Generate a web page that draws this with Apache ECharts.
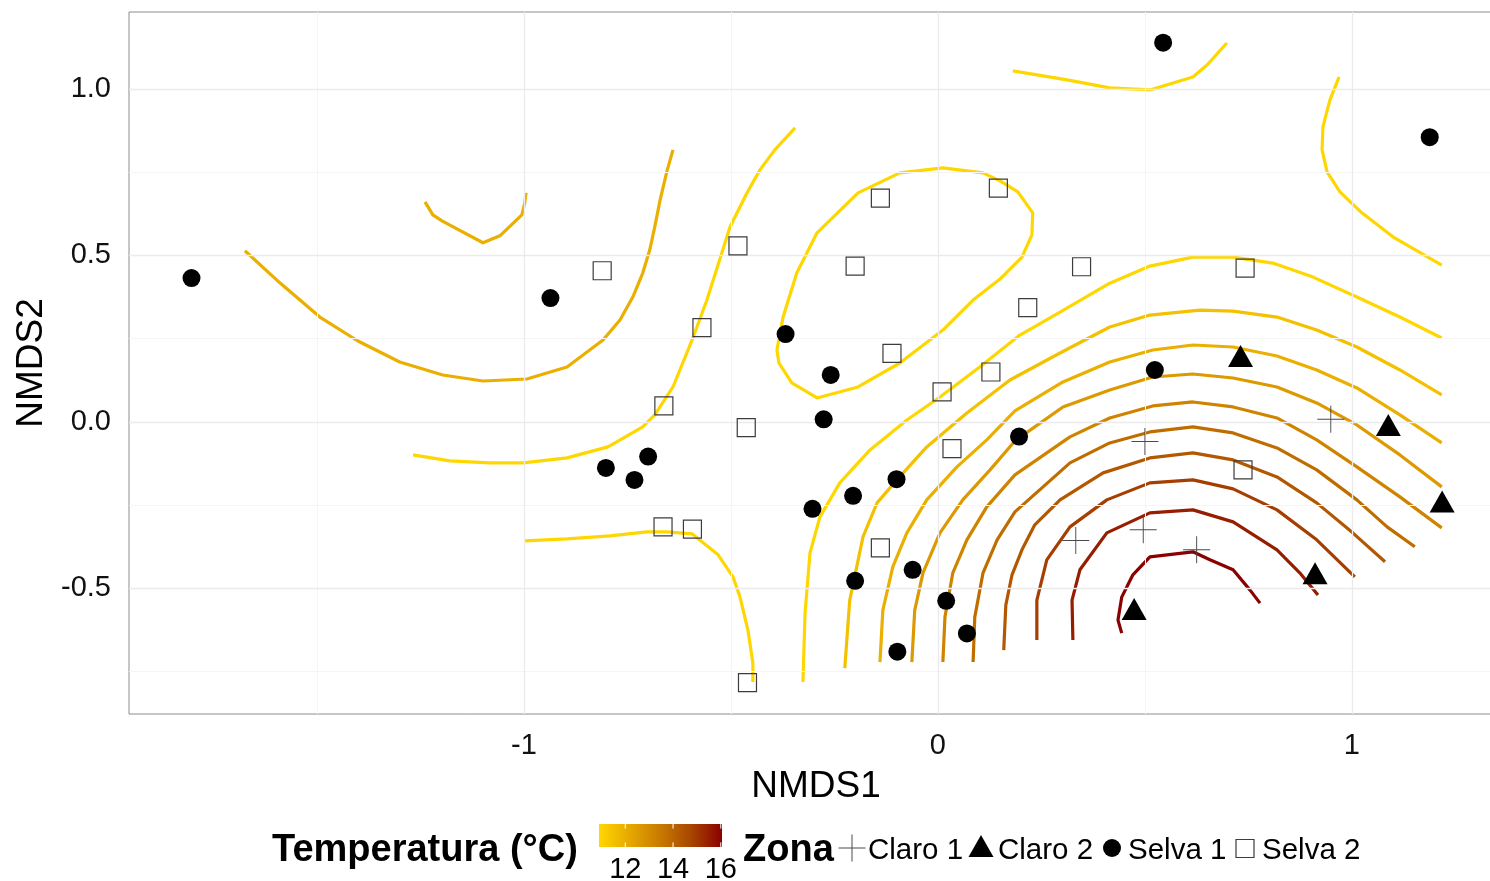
<!DOCTYPE html>
<html>
<head>
<meta charset="utf-8">
<script src="https://cdn.jsdelivr.net/npm/echarts@6/dist/echarts.min.js"></script>
<style>
  html, body { margin: 0; padding: 0; background: #ffffff; }
  #chart { width: 1490px; height: 881px; }
</style>
</head>
<body>
<div id="chart"></div>
<script>
// ---- axes (NMDS ordination space) ----
const X_RANGE = [-1.954, 1.365];
const Y_RANGE = [-0.877, 1.231];
const X_TICKS = [-1, 0, 1];
const Y_TICKS = [-0.5, 0.0, 0.5, 1.0];
const X_MINOR = [-1.5, -0.5, 0.5];
const Y_MINOR = [-0.75, -0.25, 0.25, 0.75];

// ---- temperature scale (°C) ----
const TEMP_RANGE = [10.9, 16.05];
const TEMP_TICKS = [12, 14, 16];
const LEVELS = [10.9, 11.5, 12.0, 12.6, 13.2, 13.8, 14.3, 14.9, 15.5, 16.05];

// ---- temperature isolines, [NMDS1, NMDS2] ----
const iso_arc1 = [[-0.326,-0.781],[-0.321,-0.574],[-0.309,-0.393],[-0.285,-0.285],[-0.237,-0.183],[-0.164,-0.084],[-0.075,0.006],[0.005,0.075],[0.101,0.165],[0.198,0.261],[0.295,0.330],[0.411,0.414],[0.512,0.468],[0.616,0.495],[0.713,0.495],[0.809,0.477],[0.906,0.435],[1.012,0.375],[1.116,0.315],[1.217,0.252]];
const iso_arc2 = [[-0.225,-0.739],[-0.213,-0.535],[-0.181,-0.345],[-0.147,-0.243],[-0.099,-0.174],[-0.027,-0.075],[0.070,0.027],[0.174,0.126],[0.295,0.207],[0.415,0.285],[0.512,0.321],[0.633,0.336],[0.713,0.333],[0.819,0.315],[0.915,0.276],[1.012,0.225],[1.116,0.156],[1.217,0.081]];
const iso_arc3 = [[-0.140,-0.721],[-0.133,-0.565],[-0.109,-0.435],[-0.075,-0.333],[-0.027,-0.234],[0.046,-0.135],[0.118,-0.054],[0.186,0.033],[0.302,0.120],[0.415,0.180],[0.519,0.216],[0.616,0.231],[0.713,0.225],[0.819,0.198],[0.915,0.156],[1.012,0.102],[1.116,0.021],[1.217,-0.063]];
const iso_arc4 = [[-0.063,-0.721],[-0.056,-0.565],[-0.036,-0.453],[0.005,-0.333],[0.060,-0.234],[0.126,-0.144],[0.186,-0.057],[0.302,0.045],[0.415,0.096],[0.519,0.135],[0.616,0.144],[0.713,0.132],[0.819,0.105],[0.915,0.057],[1.012,-0.009],[1.116,-0.099],[1.217,-0.195]];
const iso_arc5 = [[0.012,-0.721],[0.017,-0.586],[0.036,-0.453],[0.070,-0.354],[0.118,-0.255],[0.186,-0.159],[0.319,-0.045],[0.415,0.012],[0.519,0.048],[0.616,0.060],[0.713,0.045],[0.819,0.012],[0.915,-0.054],[1.012,-0.135],[1.116,-0.225],[1.217,-0.318]];
const iso_arc6 = [[0.085,-0.721],[0.089,-0.586],[0.109,-0.453],[0.143,-0.354],[0.186,-0.270],[0.254,-0.195],[0.319,-0.123],[0.415,-0.063],[0.512,-0.030],[0.616,-0.015],[0.713,-0.033],[0.819,-0.078],[0.915,-0.144],[1.012,-0.234],[1.085,-0.315],[1.152,-0.375]];
const iso_arc7 = [[0.159,-0.685],[0.164,-0.550],[0.179,-0.459],[0.203,-0.384],[0.234,-0.309],[0.295,-0.234],[0.399,-0.153],[0.512,-0.108],[0.616,-0.093],[0.713,-0.114],[0.819,-0.165],[0.915,-0.243],[1.002,-0.333],[1.080,-0.420]];
const iso_arc8 = [[0.239,-0.655],[0.239,-0.535],[0.263,-0.414],[0.319,-0.315],[0.408,-0.234],[0.512,-0.183],[0.616,-0.174],[0.713,-0.201],[0.819,-0.264],[0.915,-0.354],[1.007,-0.465]];
const iso_arc9 = [[0.326,-0.655],[0.324,-0.535],[0.343,-0.444],[0.408,-0.333],[0.512,-0.273],[0.616,-0.264],[0.713,-0.300],[0.819,-0.384],[0.874,-0.453],[0.918,-0.520]];
const iso_arc10 = [[0.444,-0.634],[0.435,-0.595],[0.444,-0.526],[0.471,-0.459],[0.512,-0.405],[0.616,-0.390],[0.657,-0.414],[0.713,-0.444],[0.754,-0.505],[0.778,-0.544]];
const iso_loop = [[-0.389,0.216],[-0.374,0.315],[-0.341,0.447],[-0.292,0.568],[-0.193,0.688],[-0.092,0.748],[0.012,0.763],[0.109,0.748],[0.150,0.724],[0.193,0.691],[0.229,0.628],[0.227,0.562],[0.203,0.495],[0.150,0.429],[0.085,0.366],[0.012,0.276],[-0.092,0.177],[-0.193,0.105],[-0.292,0.072],[-0.353,0.117],[-0.384,0.177],[-0.389,0.216]];
const iso_top = [[0.181,1.054],[0.312,1.027],[0.415,1.003],[0.512,0.997],[0.616,1.036],[0.650,1.072],[0.698,1.138]];
const iso_right = [[0.969,1.036],[0.947,0.967],[0.930,0.886],[0.928,0.817],[0.940,0.751],[0.971,0.691],[1.024,0.628],[1.099,0.556],[1.217,0.471]];
const iso_west = [[-1.268,-0.099],[-1.179,-0.117],[-1.082,-0.123],[-1.002,-0.123],[-0.896,-0.108],[-0.797,-0.075],[-0.713,-0.015],[-0.684,0.021],[-0.640,0.105],[-0.592,0.252],[-0.558,0.366],[-0.502,0.586],[-0.461,0.688],[-0.430,0.757],[-0.394,0.817],[-0.345,0.883]];
const iso_south = [[-0.998,-0.357],[-0.896,-0.351],[-0.792,-0.342],[-0.703,-0.330],[-0.655,-0.330],[-0.594,-0.336],[-0.531,-0.399],[-0.495,-0.465],[-0.478,-0.526],[-0.459,-0.625],[-0.447,-0.724],[-0.447,-0.781]];
const iso_farwest = [[-1.674,0.514],[-1.589,0.417],[-1.493,0.315],[-1.401,0.243],[-1.300,0.180],[-1.196,0.141],[-1.099,0.123],[-0.993,0.129],[-0.896,0.165],[-0.809,0.246],[-0.768,0.306],[-0.737,0.375],[-0.713,0.447],[-0.696,0.517],[-0.684,0.586],[-0.671,0.667],[-0.655,0.751],[-0.640,0.817]];
const iso_hook = [[-1.239,0.661],[-1.220,0.622],[-1.198,0.604],[-1.099,0.538],[-1.058,0.559],[-1.005,0.622],[-0.998,0.658],[-0.995,0.688]];

const CONTOURS = [
  [LEVELS[0], iso_loop], [LEVELS[0], iso_top], [LEVELS[0], iso_right],
  [LEVELS[0], iso_west], [LEVELS[0], iso_south],
  [LEVELS[2], iso_farwest], [LEVELS[2], iso_hook],
  [LEVELS[0], iso_arc1], [LEVELS[1], iso_arc2], [LEVELS[2], iso_arc3],
  [LEVELS[3], iso_arc4], [LEVELS[4], iso_arc5], [LEVELS[5], iso_arc6],
  [LEVELS[6], iso_arc7], [LEVELS[7], iso_arc8], [LEVELS[8], iso_arc9],
  [LEVELS[9], iso_arc10]
];

// ---- sampling sites by zone, [NMDS1, NMDS2] ----
const claro1 = [[0.949,0.008],[0.500,-0.059],[0.333,-0.356],[0.496,-0.324],[0.625,-0.384]];
const claro2 = [[0.731,0.198],[1.088,-0.009],[1.218,-0.239],[0.911,-0.454],[0.474,-0.562]];
const selva1 = [[-1.803,0.432],[-0.936,0.372],[0.544,1.139],[1.188,0.855],[-0.368,0.264],
  [-0.259,0.141],[-0.276,0.008],[-0.802,-0.138],[-0.733,-0.174],[-0.700,-0.104],
  [-0.303,-0.261],[-0.205,-0.222],[-0.100,-0.172],[-0.200,-0.477],[-0.061,-0.444],
  [0.020,-0.537],[0.070,-0.635],[-0.098,-0.690],[0.196,-0.044],[0.524,0.156]];
const selva2 = [[-0.811,0.454],[-0.483,0.529],[-0.139,0.672],[0.146,0.702],[-0.200,0.468],
  [-0.570,0.283],[-0.111,0.206],[-0.662,0.048],[-0.463,-0.017],[0.010,0.090],
  [0.128,0.150],[0.217,0.343],[0.347,0.466],[0.742,0.462],[0.034,-0.080],
  [-0.139,-0.378],[-0.664,-0.315],[-0.593,-0.322],[-0.460,-0.783],[0.737,-0.144]];

// gold -> dark red ramp for temperature
const RAMP = ['#FFD700', '#E6A800', '#C87A00', '#A84500', '#8B0000'];
function hexToRgb(h) { return [1, 3, 5].map(i => parseInt(h.slice(i, i + 2), 16)); }
function tempColour(t) {
  let f = (t - TEMP_RANGE[0]) / (TEMP_RANGE[1] - TEMP_RANGE[0]);
  f = Math.max(0, Math.min(1, f));
  const pos = f * (RAMP.length - 1);
  const i = Math.min(Math.floor(pos), RAMP.length - 2);
  const u = pos - i;
  const a = hexToRgb(RAMP[i]), b = hexToRgb(RAMP[i + 1]);
  const c = a.map((v, k) => Math.round(v + (b[k] - v) * u));
  return 'rgb(' + c.join(',') + ')';
}

const FONT = '"Liberation Sans", Arial, sans-serif';
const PLUS = 'path://M-0.035,-1H0.035V-0.035H1V0.035H0.035V1H-0.035V0.035H-1V-0.035H-0.035Z';

const majorStyle = { color: '#ebebeb', width: 1.3, type: 'solid' };
const minorStyle = { color: '#f5f5f5', width: 1, type: 'solid' };

// background grid drawn as mark lines through the axis scales
const gridSeries = {
  type: 'line', data: [], z: 1, silent: true,
  markLine: {
    silent: true, symbol: ['none', 'none'], label: { show: false }, animation: false,
    data: [
      ...X_MINOR.map(v => ({ xAxis: v, lineStyle: minorStyle })),
      ...Y_MINOR.map(v => ({ yAxis: v, lineStyle: minorStyle })),
      ...X_TICKS.map(v => ({ xAxis: v, lineStyle: majorStyle })),
      ...Y_TICKS.map(v => ({ yAxis: v, lineStyle: majorStyle }))
    ]
  }
};

const contourSeries = CONTOURS.map(([lvl, pts]) => ({
  type: 'line', data: pts, showSymbol: false, symbol: 'none', z: 2, silent: true,
  lineStyle: { width: 3.2, color: tempColour(lvl), cap: 'butt', join: 'round' }
}));

const pointSeries = [
  { name: 'Claro 1', type: 'scatter', data: claro1, z: 5, symbol: PLUS, symbolSize: 27,
    itemStyle: { color: '#4a4a4a', opacity: 1 } },
  { name: 'Claro 2', type: 'scatter', data: claro2, z: 5, symbol: 'triangle', symbolSize: [25, 22],
    itemStyle: { color: '#000000', opacity: 1 } },
  { name: 'Selva 1', type: 'scatter', data: selva1, z: 5, symbol: 'circle', symbolSize: 18,
    itemStyle: { color: '#000000', opacity: 1 } },
  { name: 'Selva 2', type: 'scatter', data: selva2, z: 5, symbol: 'rect', symbolSize: 18,
    itemStyle: { color: 'rgba(255,255,255,0)', borderColor: '#3c3c3c', borderWidth: 1.2, opacity: 1 } }
];

// ---- bottom legend: temperature colourbar + zone key ----
const BAR = { x: 599, y: 824, w: 123, h: 23 };
function barX(v) { return BAR.x + BAR.w * (v - TEMP_RANGE[0]) / (TEMP_RANGE[1] - TEMP_RANGE[0]); }
const legendGraphics = [
  { type: 'text', left: 272, top: 832, style: { text: 'Temperatura (°C)', font: 'bold 38px ' + FONT, fill: '#000' } },
  { type: 'rect', shape: { x: BAR.x, y: BAR.y, width: BAR.w, height: BAR.h },
    style: { fill: new echarts.graphic.LinearGradient(0, 0, 1, 0,
      RAMP.map((c, i) => ({ offset: i / (RAMP.length - 1), color: c }))) } },
  ...TEMP_TICKS.flatMap(v => [
    { type: 'line', shape: { x1: barX(v), y1: BAR.y, x2: barX(v), y2: BAR.y + BAR.h / 5 }, style: { stroke: '#fff', lineWidth: 1 } },
    { type: 'line', shape: { x1: barX(v), y1: BAR.y + BAR.h * 4 / 5, x2: barX(v), y2: BAR.y + BAR.h }, style: { stroke: '#fff', lineWidth: 1 } },
    { type: 'text', x: barX(v), y: 855, style: { text: String(v), font: '29px ' + FONT, fill: '#000', align: 'center', verticalAlign: 'top' } }
  ]),
  { type: 'text', left: 743, top: 832, style: { text: 'Zona', font: 'bold 38px ' + FONT, fill: '#000' } },
  { type: 'line', shape: { x1: 838.5, y1: 848, x2: 865.5, y2: 848 }, style: { stroke: '#4a4a4a', lineWidth: 1 } },
  { type: 'line', shape: { x1: 852, y1: 834.5, x2: 852, y2: 861.5 }, style: { stroke: '#4a4a4a', lineWidth: 1 } },
  { type: 'text', left: 868, top: 836, style: { text: 'Claro 1', font: '29.5px ' + FONT, fill: '#000' } },
  { type: 'polygon', shape: { points: [[981, 835], [968.5, 857], [993.5, 857]] }, style: { fill: '#000' } },
  { type: 'text', left: 998, top: 836, style: { text: 'Claro 2', font: '29.5px ' + FONT, fill: '#000' } },
  { type: 'circle', shape: { cx: 1112, cy: 848, r: 9 }, style: { fill: '#000' } },
  { type: 'text', left: 1128, top: 836, style: { text: 'Selva 1', font: '29.5px ' + FONT, fill: '#000' } },
  { type: 'rect', shape: { x: 1236, y: 839.5, width: 18, height: 18 }, style: { fill: 'none', stroke: '#3c3c3c', lineWidth: 1.2 } },
  { type: 'text', left: 1262, top: 836, style: { text: 'Selva 2', font: '29.5px ' + FONT, fill: '#000' } }
];

const chart = echarts.init(document.getElementById('chart'), null, { renderer: 'canvas' });
chart.setOption({
  animation: false,
  backgroundColor: '#ffffff',
  textStyle: { fontFamily: FONT },
  grid: { left: 129, top: 12, width: 1374, height: 702, show: true, outerBoundsMode: 'none',
          containLabel: false, borderColor: '#8c8c8c', borderWidth: 1, backgroundColor: '#ffffff' },
  xAxis: {
    type: 'value', min: X_RANGE[0], max: X_RANGE[1],
    name: 'NMDS1', nameLocation: 'middle', nameGap: 54,
    nameTextStyle: { fontSize: 37, color: '#000', fontFamily: FONT },
    axisLine: { show: false },
    axisTick: { show: true, length: 8, customValues: X_TICKS, lineStyle: { color: '#333', width: 1 } },
    axisLabel: { customValues: X_TICKS, fontSize: 29, color: '#111', margin: 17, fontFamily: FONT,
                 formatter: v => String(v) },
    splitLine: { show: false }
  },
  yAxis: {
    type: 'value', min: Y_RANGE[0], max: Y_RANGE[1],
    name: 'NMDS2', nameLocation: 'middle', nameGap: 77,
    nameTextStyle: { fontSize: 37, color: '#000', fontFamily: FONT },
    axisLine: { show: false },
    axisTick: { show: true, length: 8, customValues: Y_TICKS, lineStyle: { color: '#333', width: 1 } },
    axisLabel: { customValues: Y_TICKS, fontSize: 29, color: '#111', margin: 18, fontFamily: FONT,
                 padding: [5, 0, 0, 0], formatter: v => v.toFixed(1) },
    splitLine: { show: false }
  },
  series: [gridSeries, ...contourSeries, ...pointSeries],
  graphic: legendGraphics
});
</script>
</body>
</html>
